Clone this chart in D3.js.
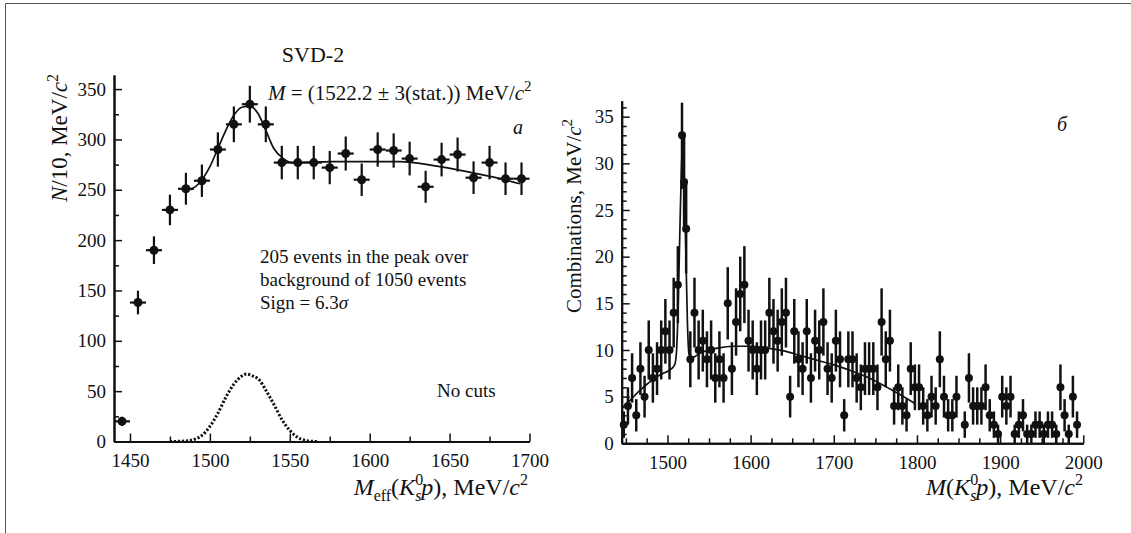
<!DOCTYPE html>
<html>
<head>
<meta charset="utf-8">
<script src="https://cdn.jsdelivr.net/npm/d3@7"></script>
<style>
  body { margin: 0; background: #fff; }
  svg text { font-family: "Liberation Serif", "Times New Roman", serif; fill: #111; }
</style>
</head>
<body>
<div id="chart"></div>
<script>
// ---- data, panel a (N per 10 MeV) ----
var leftMass = [1445, 1455, 1465, 1475, 1485, 1495, 1505, 1515, 1525, 1535, 1545, 1555, 1565,
                1575, 1585, 1595, 1605, 1615, 1625, 1635, 1645, 1655, 1665, 1675, 1685, 1695];
var leftCounts = [20, 138, 190, 230, 251, 259, 290, 315, 335, 315, 277, 277, 277,
                  272, 286, 260, 290, 289, 281, 253, 280, 285, 262, 277, 261, 261];
// fit curve (signal + background)
var leftFitX = [1488, 1493, 1500, 1505, 1510, 1515, 1520, 1525, 1530, 1535, 1540, 1546, 1551,
                1577, 1619, 1640, 1661, 1682, 1694];
var leftFitY = [250, 256, 273, 291, 309, 324, 332, 333, 326, 309, 291, 281, 277,
                278, 278, 274, 268, 261, 256];
// signal only (dotted)
var leftSigX = [1475, 1485, 1490, 1495, 1500, 1505, 1510, 1515, 1520, 1523, 1527, 1531, 1535,
                1540, 1545, 1550, 1555, 1560, 1567];
var leftSigY = [0, 0.5, 2, 6, 15, 28, 44, 57, 65, 67, 65, 61, 51, 37, 22, 11, 4, 1, 0];
var leftXTicks = [1450, 1500, 1550, 1600, 1650, 1700];
var leftXMinor = [1475, 1525, 1575, 1625, 1675];
var leftYTicks = [0, 50, 100, 150, 200, 250, 300, 350];
var leftYMinor = [25, 75, 125, 175, 225, 275, 325];

// ---- data, panel b (combinations per 5 MeV) ----
var rightMass = [1447.5, 1452.5, 1457.5, 1462.5, 1467.5, 1472.5, 1477.5, 1482.5, 1487.5, 1492.5,
  1497.5, 1502.5, 1507.5, 1512.5, 1517.5, 1520, 1522.5, 1527.5, 1532.5, 1537.5,
  1542.5, 1547.5, 1552.5, 1557.5, 1562.5, 1567.5, 1572.5, 1577.5, 1582.5, 1587.5,
  1592.5, 1597.5, 1602.5, 1607.5, 1612.5, 1617.5, 1622.5, 1627.5, 1632.5, 1637.5,
  1642.5, 1647.5, 1652.5, 1657.5, 1662.5, 1667.5, 1672.5, 1677.5, 1682.5, 1687.5,
  1692.5, 1697.5, 1702.5, 1707.5, 1712.5, 1717.5, 1722.5, 1727.5, 1732.5, 1737.5,
  1742.5, 1747.5, 1752.5, 1757.5, 1762.5, 1767.5, 1772.5, 1777.5, 1782.5, 1787.5,
  1792.5, 1797.5, 1802.5, 1807.5, 1812.5, 1817.5, 1822.5, 1827.5, 1832.5, 1837.5,
  1842.5, 1847.5, 1857.5, 1862.5, 1867.5, 1872.5, 1877.5, 1882.5, 1887.5, 1892.5,
  1897.5, 1902.5, 1907.5, 1912.5, 1917.5, 1922.5, 1927.5, 1932.5, 1937.5, 1942.5,
  1947.5, 1952.5, 1957.5, 1962.5, 1967.5, 1972.5, 1977.5, 1982.5, 1987.5, 1992.5];
var rightCounts = [2, 4, 7, 3, 8, 5, 10, 7, 8, 10,
  12, 10, 14, 17, 33, 28, 23, 9, 14, 10,
  11, 9, 10, 7, 9, 7, 15, 8, 13, 16,
  17, 11, 10, 8, 10, 10, 14, 12, 11, 13,
  14, 5, 12, 9, 8, 12, 7, 11, 10, 13,
  8, 7, 11, 9, 3, 9, 9, 7, 6, 8,
  8, 8, 6, 13, 9, 11, 4, 6, 4, 3,
  8, 6, 6, 4, 3, 5, 4, 9, 5, 3,
  3, 5, 2, 7, 4, 4, 4, 6, 3, 2,
  1, 5, 4, 5, 1, 2, 3, 1, 1, 2,
  2, 1, 2, 2, 1, 6, 3, 1, 5, 2];
var rightFitX = [1446, 1455, 1465, 1475, 1485, 1495, 1505, 1509, 1511, 1513, 1515, 1517, 1518.5,
  1520, 1522, 1524, 1526, 1530, 1540, 1560, 1580, 1600, 1620, 1640, 1660, 1680, 1700,
  1720, 1740, 1760, 1780, 1797];
var rightFitY = [3.8, 4.6, 5.5, 6.3, 7.0, 7.5, 8.0, 8.5, 10, 15, 23, 30, 32,
  29, 21, 13, 9.5, 9.2, 9.7, 10.2, 10.4, 10.4, 10.2, 9.9, 9.4, 8.9, 8.4,
  7.8, 7.1, 6.2, 5.2, 4.3];
var rightXTicks = [1500, 1600, 1700, 1800, 1900, 2000];
var rightXMinor = [1450, 1475, 1525, 1550, 1575, 1625, 1650, 1675, 1725, 1750, 1775,
  1825, 1850, 1875, 1925, 1950, 1975];
var rightYTicks = [0, 5, 10, 15, 20, 25, 30, 35];
var rightYMinor = [1, 2, 3, 4, 6, 7, 8, 9, 11, 12, 13, 14, 16, 17, 18, 19,
  21, 22, 23, 24, 26, 27, 28, 29, 31, 32, 33, 34, 36];

var width = 1131, height = 533;
var ink = "#111";

var svg = d3.select("#chart").append("svg")
    .attr("width", width)
    .attr("height", height);

// frame of the scanned figure (only top and left edges show)
svg.append("path")
    .attr("d", "M5.5,540 L5.5,3.5 L1131,3.5")
    .attr("fill", "none")
    .attr("stroke", "#555")
    .attr("stroke-width", 1);

// helper: text made of styled pieces (italics, sub/superscripts)
function richText(x, y, anchor, size, parts) {
  var t = svg.append("text")
      .attr("x", x).attr("y", y)
      .attr("text-anchor", anchor)
      .attr("font-size", size);
  parts.forEach(function (p) {
    var s = t.append("tspan").text(p.t);
    if (p.i) s.attr("font-style", "italic");
    if (p.s) s.attr("font-size", p.s);
    if (p.dx) s.attr("dx", p.dx);
    if (p.dy) s.attr("dy", p.dy);
  });
  return t;
}

function drawAxes(x, y, xMajor, xMinor, yMajor, yMinor) {
  var x0 = x.range()[0], y0 = y.range()[0];
  var gx = svg.append("g").attr("transform", "translate(0," + y0 + ")");
  gx.call(d3.axisBottom(x).tickValues(xMajor).tickSizeInner(-8).tickSizeOuter(0)
      .tickPadding(12).tickFormat(d3.format("d")));
  gx.append("g").call(d3.axisBottom(x).tickValues(xMinor).tickSizeInner(-5).tickSizeOuter(0)
      .tickFormat(""));
  var gy = svg.append("g").attr("transform", "translate(" + x0 + ",0)");
  gy.call(d3.axisLeft(y).tickValues(yMajor).tickSizeInner(-8).tickSizeOuter(0)
      .tickPadding(8).tickFormat(d3.format("d")));
  gy.append("g").call(d3.axisLeft(y).tickValues(yMinor).tickSizeInner(-5).tickSizeOuter(0)
      .tickFormat(""));
  [gx, gy].forEach(function (g) {
    g.selectAll(".domain").attr("stroke", ink).attr("stroke-width", 2);
    g.selectAll("line").attr("stroke", ink).attr("stroke-width", 1.5);
    g.selectAll("text").attr("font-size", 19).attr("fill", ink)
        .style("font-family", "'Liberation Serif', 'Times New Roman', serif");
  });
  gx.selectAll("text").attr("dy", "0.71em");
}

// ---------------- panel a ----------------
var xL = d3.scaleLinear().domain([1440, 1700]).range([114, 529.5]);
var yL = d3.scaleLinear().domain([0, 364]).range([441.5, 75]);
drawAxes(xL, yL, leftXTicks, leftXMinor, leftYTicks, leftYMinor);

var leftPts = leftMass.map(function (m, i) { return { m: m, n: leftCounts[i] }; });
var gL = svg.append("g");
gL.selectAll("line.v").data(leftPts).enter().append("line")
    .attr("x1", function (d) { return xL(d.m); })
    .attr("x2", function (d) { return xL(d.m); })
    .attr("y1", function (d) { return yL(d.n + Math.sqrt(d.n)); })
    .attr("y2", function (d) { return yL(Math.max(0, d.n - Math.sqrt(d.n))); })
    .attr("stroke", ink).attr("stroke-width", 2.2);
gL.selectAll("line.h").data(leftPts).enter().append("line")
    .attr("x1", function (d) { return xL(Math.max(1440, d.m - 5)); })
    .attr("x2", function (d) { return xL(d.m + 5); })
    .attr("y1", function (d) { return yL(d.n); })
    .attr("y2", function (d) { return yL(d.n); })
    .attr("stroke", ink).attr("stroke-width", 2.2);
gL.selectAll("circle").data(leftPts).enter().append("circle")
    .attr("cx", function (d) { return xL(d.m); })
    .attr("cy", function (d) { return yL(d.n); })
    .attr("r", 4.5).attr("fill", ink);

var lineL = d3.line()
    .x(function (d) { return xL(d[0]); })
    .y(function (d) { return yL(d[1]); })
    .curve(d3.curveMonotoneX);
svg.append("path")
    .attr("d", lineL(d3.zip(leftFitX, leftFitY)))
    .attr("fill", "none").attr("stroke", ink).attr("stroke-width", 1.7);
svg.append("path")
    .attr("d", lineL(d3.zip(leftSigX, leftSigY)))
    .attr("fill", "none").attr("stroke", ink).attr("stroke-width", 3)
    .attr("stroke-dasharray", "2.2,1.8");

richText(313, 62, "middle", 22, [{ t: "SVD-2" }]);
richText(268, 100, "start", 21, [
  { t: "M", i: true }, { t: " = (1522.2 ± 3(stat.)) MeV/" }, { t: "c", i: true },
  { t: "2", s: 15, dy: -9 }]);
richText(513, 134, "start", 20, [{ t: "a", i: true }]);
richText(260, 263, "start", 19, [{ t: "205 events in the peak over" }]);
richText(260, 286, "start", 19, [{ t: "background of 1050 events" }]);
richText(260, 309, "start", 19, [{ t: "Sign = 6.3" }, { t: "σ", i: true }]);
richText(437, 397, "start", 19, [{ t: "No cuts" }]);

richText(528, 495, "end", 24, [
  { t: "M", i: true }, { t: "eff", s: 16, dy: 6 }, { t: "(", dy: -6 }, { t: "K", i: true },
  { t: "0", s: 16, dy: -10 }, { t: "s", i: true, s: 16, dx: -8, dy: 16 },
  { t: "p", i: true, dy: -6 }, { t: "), MeV/" }, { t: "c", i: true }, { t: "2", s: 16, dy: -10 }]);

richText(0, 0, "middle", 23, [
  { t: "N", i: true }, { t: "/10, MeV/" }, { t: "c", i: true }, { t: "2", s: 16, dy: -9 }])
    .attr("x", null).attr("y", null)
    .attr("transform", "translate(67,138) rotate(-90)");

// ---------------- panel b ----------------
var xR = d3.scaleLinear().domain([1445, 2000]).range([621.7, 1083.3]);
var yR = d3.scaleLinear().domain([0, 36.7]).range([443.3, 100.8]);
drawAxes(xR, yR, rightXTicks, rightXMinor, rightYTicks, rightYMinor);

var rightPts = rightMass.map(function (m, i) { return { m: m, n: rightCounts[i] }; });
var gR = svg.append("g");
gR.selectAll("line.v").data(rightPts).enter().append("line")
    .attr("x1", function (d) { return xR(d.m); })
    .attr("x2", function (d) { return xR(d.m); })
    .attr("y1", function (d) { return yR(Math.min(36.5, d.n + Math.sqrt(d.n))); })
    .attr("y2", function (d) { return yR(Math.max(0, d.n - Math.sqrt(d.n))); })
    .attr("stroke", ink).attr("stroke-width", 2.5);
gR.selectAll("line.h").data(rightPts).enter().append("line")
    .attr("x1", function (d) { return xR(Math.max(1445, d.m - 2.5)); })
    .attr("x2", function (d) { return xR(d.m + 2.5); })
    .attr("y1", function (d) { return yR(d.n); })
    .attr("y2", function (d) { return yR(d.n); })
    .attr("stroke", ink).attr("stroke-width", 3.5);
gR.selectAll("circle").data(rightPts).enter().append("circle")
    .attr("cx", function (d) { return xR(d.m); })
    .attr("cy", function (d) { return yR(d.n); })
    .attr("r", 4).attr("fill", ink);

var lineR = d3.line()
    .x(function (d) { return xR(d[0]); })
    .y(function (d) { return yR(d[1]); })
    .curve(d3.curveMonotoneX);
svg.append("path")
    .attr("d", lineR(d3.zip(rightFitX, rightFitY)))
    .attr("fill", "none").attr("stroke", ink).attr("stroke-width", 1.7);

richText(1057, 131, "start", 20, [{ t: "б", i: true }]);
richText(1083, 495, "end", 24, [
  { t: "M", i: true }, { t: "(" }, { t: "K", i: true },
  { t: "0", s: 16, dy: -10 }, { t: "s", i: true, s: 16, dx: -8, dy: 16 },
  { t: "p", i: true, dy: -6 }, { t: "), MeV/" }, { t: "c", i: true }, { t: "2", s: 16, dy: -10 }]);

richText(0, 0, "middle", 21, [
  { t: "Combinations, MeV/" }, { t: "c", i: true }, { t: "2", s: 15, dy: -9 }])
    .attr("x", null).attr("y", null)
    .attr("transform", "translate(581,216) rotate(-90)");
</script>
</body>
</html>
